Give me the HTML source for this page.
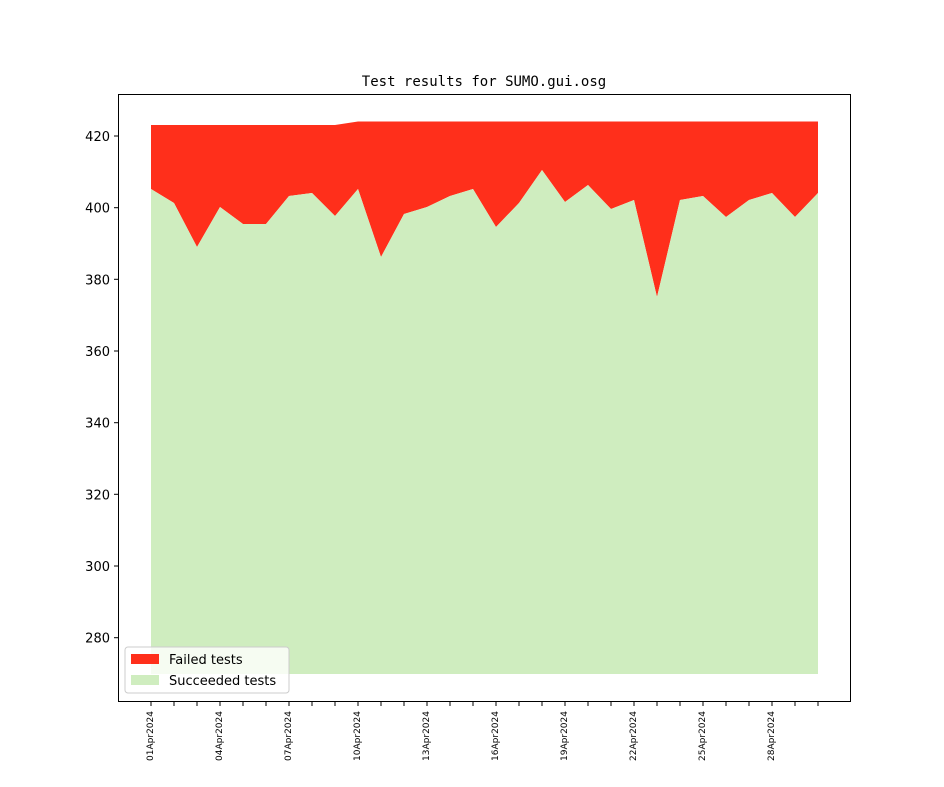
<!DOCTYPE html>
<html><head><meta charset="utf-8"><style>body{margin:0;background:#fff}svg{display:block}</style></head><body>
<svg width="944" height="787" xmlns="http://www.w3.org/2000/svg" font-family="DejaVu Sans, Liberation Sans, sans-serif">
<rect width="944" height="787" fill="#fff"/>
<text x="484" y="86" text-anchor="middle" font-family="DejaVu Sans Mono, Liberation Mono, monospace" font-size="14">Test results for SUMO.gui.osg</text>
<polygon fill="#ff2f1b" points="151,125 335,125 358,121.5 818,121.5 818,193 795,217 772,193 749,200 726,217 703,196 680,200 657,297 634,200 611,209 588,185 565,202 542,170 519,203 496,227 473,189 450,196 427,207 404,214 381,257 358,189 335,216 312,193 289,196 266,224 243,224 220,207 197,247 174,203 151,189"/>
<polygon fill="#cfedbf" points="151,189 174,203 197,247 220,207 243,224 266,224 289,196 312,193 335,216 358,189 381,257 404,214 427,207 450,196 473,189 496,227 519,203 542,170 565,202 588,185 611,209 634,200 657,297 680,200 703,196 726,217 749,200 772,193 795,217 818,193 818,674 151,674"/>
<rect x="118.5" y="94.5" width="732" height="607" fill="none" stroke="#000" stroke-width="1"/>
<g font-size="13" text-anchor="end" stroke="none">
<g stroke="#000"><line x1="114" x2="118" y1="136" y2="136"/><line x1="114" x2="118" y1="207.7" y2="207.7"/><line x1="114" x2="118" y1="279.3" y2="279.3"/><line x1="114" x2="118" y1="351" y2="351"/><line x1="114" x2="118" y1="422.7" y2="422.7"/><line x1="114" x2="118" y1="494.3" y2="494.3"/><line x1="114" x2="118" y1="566" y2="566"/><line x1="114" x2="118" y1="637.7" y2="637.7"/></g>
<text x="110" y="141">420</text><text x="110" y="212.7">400</text><text x="110" y="284.3">380</text><text x="110" y="356">360</text><text x="110" y="427.7">340</text><text x="110" y="499.3">320</text><text x="110" y="571">300</text><text x="110" y="642.7">280</text>
</g>
<g stroke="#000">
<path d="M151,702v4M174,702v4M197,702v4M220,702v4M243,702v4M266,702v4M289,702v4M312,702v4M335,702v4M358,702v4M381,702v4M404,702v4M427,702v4M450,702v4M473,702v4M496,702v4M519,702v4M542,702v4M565,702v4M588,702v4M611,702v4M634,702v4M657,702v4M680,702v4M703,702v4M726,702v4M749,702v4M772,702v4M795,702v4M818,702v4"/>
</g>
<g font-size="9" text-anchor="end">
<text transform="translate(153,711) rotate(-90)">01Apr2024</text>
<text transform="translate(222,711) rotate(-90)">04Apr2024</text>
<text transform="translate(291,711) rotate(-90)">07Apr2024</text>
<text transform="translate(360,711) rotate(-90)">10Apr2024</text>
<text transform="translate(429,711) rotate(-90)">13Apr2024</text>
<text transform="translate(498,711) rotate(-90)">16Apr2024</text>
<text transform="translate(567,711) rotate(-90)">19Apr2024</text>
<text transform="translate(636,711) rotate(-90)">22Apr2024</text>
<text transform="translate(705,711) rotate(-90)">25Apr2024</text>
<text transform="translate(774,711) rotate(-90)">28Apr2024</text>
</g>
<rect x="125" y="647" width="164" height="46" rx="3" fill="#fff" fill-opacity="0.8" stroke="#ccc"/>
<rect x="131" y="654" width="28" height="10" fill="#ff2f1b"/>
<rect x="131" y="675" width="28" height="10" fill="#cfedbf"/>
<text x="169" y="664" font-size="13">Failed tests</text>
<text x="169" y="685" font-size="13">Succeeded tests</text>
</svg>
</body></html>
